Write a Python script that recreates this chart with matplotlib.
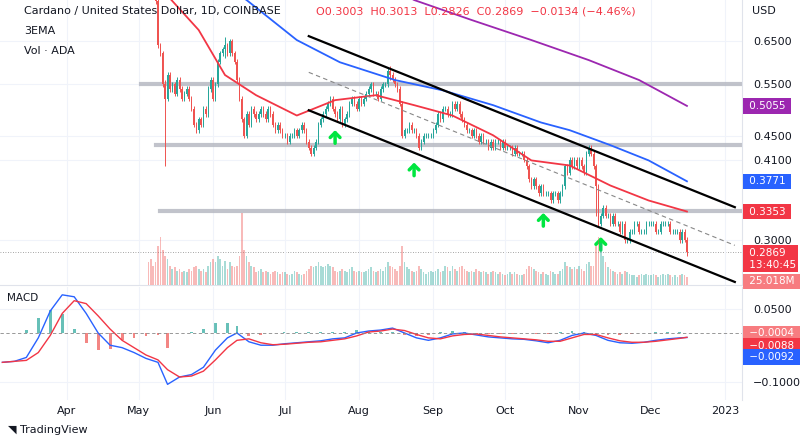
import numpy as np
import pandas as pd
import matplotlib.pyplot as plt
import matplotlib.dates as mdates

# daily closes, May 5 - Dec 16 2022
closes = (
    [0.83, 0.80, 0.78, 0.76, 0.64, 0.62, 0.55, 0.52, 0.57, 0.54, 0.55, 0.53, 0.56, 0.54,
     0.52, 0.53, 0.54, 0.52, 0.50, 0.47, 0.46, 0.48, 0.47, 0.50, 0.49, 0.54, 0.56]
    + [0.52, 0.55, 0.60, 0.62, 0.63, 0.64, 0.62, 0.65, 0.62, 0.60, 0.56, 0.52, 0.48, 0.45, 0.49,
       0.47, 0.50, 0.49, 0.48, 0.49, 0.50, 0.49, 0.48, 0.50, 0.49, 0.47, 0.46, 0.47, 0.46, 0.45]
    + [0.45, 0.44, 0.45, 0.45, 0.46, 0.45, 0.46, 0.47, 0.46, 0.44, 0.43, 0.42, 0.43, 0.44, 0.47,
       0.48, 0.49, 0.50, 0.51, 0.52, 0.50, 0.49, 0.48, 0.50, 0.47, 0.48, 0.49, 0.51, 0.52, 0.51, 0.50]
    + [0.52, 0.51, 0.52, 0.53, 0.54, 0.55, 0.53, 0.53, 0.52, 0.54, 0.55, 0.55, 0.58, 0.57, 0.56,
       0.55, 0.54, 0.51, 0.45, 0.46, 0.46, 0.47, 0.46, 0.46, 0.45, 0.43, 0.44, 0.45, 0.45, 0.45, 0.45]
    + [0.46, 0.47, 0.49, 0.48, 0.50, 0.50, 0.49, 0.49, 0.51, 0.50, 0.51, 0.49, 0.48, 0.47, 0.46,
       0.46, 0.45, 0.46, 0.45, 0.44, 0.45, 0.44, 0.44, 0.43, 0.44, 0.43, 0.44, 0.44, 0.43, 0.44]
    + [0.43, 0.43, 0.43, 0.42, 0.43, 0.42, 0.42, 0.42, 0.41, 0.40, 0.38, 0.37, 0.38, 0.37, 0.36,
       0.37, 0.36, 0.36, 0.36, 0.35, 0.36, 0.36, 0.35, 0.36, 0.37, 0.40, 0.39, 0.41, 0.40, 0.41, 0.40]
    + [0.41, 0.40, 0.39, 0.42, 0.43, 0.42, 0.40, 0.37, 0.32, 0.33, 0.34, 0.33, 0.33, 0.32, 0.33,
       0.32, 0.32, 0.31, 0.32, 0.30, 0.30, 0.31, 0.31, 0.32, 0.32, 0.31, 0.31, 0.31, 0.32, 0.32]
    + [0.32, 0.32, 0.31, 0.31, 0.32, 0.32, 0.32, 0.32, 0.31, 0.31, 0.31, 0.31, 0.30, 0.31, 0.3003, 0.2869]
)
# daily volume, millions
volumes = (
    [70, 80, 60, 70, 120, 150, 110, 90, 80, 60, 50, 55, 45, 50, 40, 45, 40, 50, 45, 55, 60, 50, 45,
     50, 40, 60, 70]
    + [80, 70, 90, 80, 60, 75, 50, 70, 60, 55, 60, 90, 225, 110, 90, 70, 60, 55, 40, 45, 50, 40,
       45, 40, 35, 40, 45, 40, 35, 40]
    + [40, 35, 30, 35, 45, 40, 35, 30, 35, 45, 50, 60, 55, 60, 70, 60, 55, 60, 65, 60, 55, 45, 40,
       45, 50, 45, 40, 50, 55, 45, 40]
    + [45, 40, 40, 45, 50, 55, 45, 40, 45, 50, 45, 55, 70, 60, 55, 50, 45, 60, 120, 70, 55, 50, 45,
       40, 45, 60, 50, 40, 35, 40, 45]
    + [40, 45, 50, 40, 45, 60, 55, 45, 60, 50, 45, 55, 60, 50, 45, 40, 45, 40, 50, 45, 40, 45, 40,
       35, 40, 45, 40, 35, 40, 35]
    + [30, 35, 40, 35, 40, 35, 30, 30, 35, 50, 60, 55, 50, 45, 40, 35, 40, 35, 30, 45, 40, 35, 35,
       45, 50, 70, 60, 55, 50, 55, 50]
    + [60, 50, 45, 65, 70, 60, 60, 120, 150, 130, 90, 70, 55, 50, 45, 40, 35, 40, 35, 45, 40, 35,
       30, 30, 25, 30, 35, 30, 35, 30]
    + [30, 35, 30, 25, 30, 35, 30, 35, 30, 25, 30, 25, 30, 35, 30, 25.018]
)
dates = pd.date_range("2022-05-05", periods=len(closes), freq="D")
opens = [0.85] + closes[:-1]

# a few notable wicks: date -> (high, low)
wicks = {"2022-05-12": (0.56, 0.40), "2022-06-06": (0.66, 0.61), "2022-08-14": (0.59, 0.56),
         "2022-11-08": (0.40, 0.33), "2022-12-16": (0.3013, 0.2826)}

# EMAs read at sample dates
red_dates = ["2022-05-10", "2022-05-26", "2022-06-06", "2022-06-19", "2022-07-06", "2022-07-22",
             "2022-08-08", "2022-08-24", "2022-09-09", "2022-09-26", "2022-10-12", "2022-10-28",
             "2022-11-14", "2022-11-30", "2022-12-16"]
red_vals = [0.80, 0.679, 0.570, 0.527, 0.487, 0.517, 0.527, 0.507, 0.487, 0.451, 0.409, 0.401,
            0.371, 0.350, 0.3353]
blue_dates = ["2022-05-10", "2022-06-15", "2022-07-06", "2022-07-24", "2022-08-16", "2022-09-05",
              "2022-09-26", "2022-10-16", "2022-10-28", "2022-11-14", "2022-11-30", "2022-12-16"]
blue_vals = [0.95, 0.763, 0.653, 0.599, 0.559, 0.537, 0.507, 0.474, 0.460, 0.434, 0.409, 0.3771]
purple_dates = ["2022-08-10", "2022-08-24", "2022-09-17", "2022-10-12", "2022-11-05", "2022-11-26",
                "2022-12-16"]
purple_vals = [0.82, 0.763, 0.706, 0.653, 0.604, 0.559, 0.5055]

# drawn channel and levels
channel_dates = ["2022-07-11", "2023-01-05"]
upper_line = [0.663, 0.341]
mid_line = [0.576, 0.294]
lower_line = [0.497, 0.255]
levels = [("2022-05-02", 0.55), ("2022-05-08", 0.434), ("2022-05-10", 0.336)]
arrow_dates = ["2022-07-22", "2022-08-24", "2022-10-17", "2022-11-10"]
arrow_prices = [0.465, 0.41, 0.337, 0.307]

# MACD, every ~5 days
macd_dates = ["2022-03-05", "2022-03-10", "2022-03-15", "2022-03-20", "2022-03-25", "2022-03-30",
              "2022-04-04", "2022-04-09", "2022-04-14", "2022-04-19", "2022-04-24", "2022-04-29",
              "2022-05-04", "2022-05-09", "2022-05-13", "2022-05-18", "2022-05-23", "2022-05-28",
              "2022-06-02", "2022-06-07", "2022-06-11", "2022-06-16", "2022-06-21", "2022-06-26",
              "2022-07-01", "2022-07-06", "2022-07-11", "2022-07-16", "2022-07-21", "2022-07-26",
              "2022-07-31", "2022-08-05", "2022-08-10", "2022-08-15", "2022-08-20", "2022-08-25",
              "2022-08-30", "2022-09-04", "2022-09-09", "2022-09-14", "2022-09-19", "2022-09-24",
              "2022-09-29", "2022-10-04", "2022-10-09", "2022-10-14", "2022-10-19", "2022-10-24",
              "2022-10-29", "2022-11-03", "2022-11-08", "2022-11-13", "2022-11-18", "2022-11-23",
              "2022-11-28", "2022-12-03", "2022-12-08", "2022-12-13", "2022-12-16"]
macd = [-0.060, -0.058, -0.050, -0.010, 0.045, 0.078, 0.074, 0.040, 0.000, -0.025, -0.030, -0.040,
        -0.052, -0.060, -0.105, -0.090, -0.085, -0.070, -0.035, -0.010, 0.000, -0.018, -0.025,
        -0.025, -0.022, -0.020, -0.018, -0.016, -0.012, -0.010, 0.000, 0.004, 0.006, 0.010, 0.000,
        -0.010, -0.015, -0.010, -0.002, 0.000, -0.004, -0.008, -0.010, -0.012, -0.013, -0.016,
        -0.020, -0.015, -0.005, 0.000, -0.005, -0.015, -0.020, -0.021, -0.019, -0.015, -0.012,
        -0.010, -0.0092]
signal = [-0.060, -0.058, -0.056, -0.040, -0.005, 0.040, 0.066, 0.060, 0.035, 0.008, -0.015,
          -0.030, -0.045, -0.055, -0.075, -0.090, -0.088, -0.078, -0.055, -0.030, -0.015, -0.012,
          -0.020, -0.024, -0.023, -0.021, -0.019, -0.018, -0.015, -0.012, -0.006, 0.002, 0.004,
          0.008, 0.005, -0.003, -0.010, -0.012, -0.006, -0.003, -0.002, -0.005, -0.008, -0.010,
          -0.012, -0.014, -0.017, -0.017, -0.010, -0.003, -0.003, -0.010, -0.016, -0.019, -0.019,
          -0.017, -0.014, -0.011, -0.0088]

UP, DOWN = "#26a69a", "#ef5350"
BLUE, RED, PURPLE = "#2962ff", "#f23645", "#9c27b0"

fig = plt.figure(figsize=(8, 4.43), dpi=100)
ax = fig.add_axes([0.0, 1 - 285 / 443, 0.9275, 285 / 443])
axm = fig.add_axes([0.0, 1 - 400 / 443, 0.9275, 113 / 443], sharex=ax)
axv = ax.twinx()

x = mdates.date2num(dates)
up = np.array(closes) >= np.array(opens)
cols = np.where(up, UP, DOWN)

# volume
axv.bar(x, volumes, width=0.7, color=cols, alpha=0.4, zorder=0)
axv.set_ylim(0, 885)
axv.axis("off")

# candles
lo = np.minimum(opens, closes)
hi = np.maximum(opens, closes)
ax.bar(x, hi - lo, bottom=lo, width=0.6, color=cols, zorder=3)
ax.vlines(x, lo * 0.99, hi * 1.01, color=cols, lw=0.7, zorder=3)
for d, (h, l) in wicks.items():
    i = list(dates).index(pd.Timestamp(d))
    ax.vlines(x[i], l, h, color=cols[i], lw=0.7, zorder=3)

ax.plot(pd.to_datetime(red_dates), red_vals, color=RED, lw=1.3, zorder=4)
ax.plot(pd.to_datetime(blue_dates), blue_vals, color=BLUE, lw=1.3, zorder=4)
ax.plot(pd.to_datetime(purple_dates), purple_vals, color=PURPLE, lw=1.3, zorder=4)

cd = pd.to_datetime(channel_dates)
ax.plot(cd, upper_line, color="black", lw=1.6, zorder=5)
ax.plot(cd, lower_line, color="black", lw=1.6, zorder=5)
ax.plot(cd, mid_line, color="#888888", lw=0.8, ls=(0, (4, 3)), zorder=5)
for d, p in levels:
    ax.plot([pd.Timestamp(d), pd.Timestamp("2023-01-08")], [p, p], color="#b2b5be", lw=3,
            alpha=0.8, zorder=2)
for d, p in zip(arrow_dates, arrow_prices):
    ax.annotate("", xy=(pd.Timestamp(d), p), xytext=(pd.Timestamp(d), p * 0.93),
                arrowprops=dict(arrowstyle="->,head_width=0.35,head_length=0.35",
                                color="#00e640", lw=2.5),
                zorder=6)
ax.axhline(closes[-1], color="#888888", lw=0.6, ls=(0, (1, 2)), zorder=1)

ax.set_yscale("log")
ax.set_ylim(0.252, 0.763)
ax.set_xlim(pd.Timestamp("2022-03-04"), pd.Timestamp("2023-01-08"))
yt = [0.65, 0.55, 0.45, 0.41, 0.30]
ax.yaxis.tick_right()
ax.set_yticks(yt)
ax.set_yticklabels([f"{v:.4f}" for v in yt])
ax.yaxis.set_minor_locator(plt.NullLocator())
ax.tick_params(axis="y", length=0, labelsize=8, colors="#131722", pad=8)
ax.tick_params(axis="x", length=0, labelbottom=False)
ax.grid(True, color="#f0f3fa", lw=0.8)
for s in ax.spines.values():
    s.set_visible(False)
ax.spines["right"].set_visible(True)
ax.spines["right"].set_color("#e0e3eb")
ax.spines["bottom"].set_visible(True)
ax.spines["bottom"].set_color("#e0e3eb")

def tag(a, y, text, color, fc="white"):
    a.text(1.005, y, text, transform=a.get_yaxis_transform(), fontsize=7.5, color=fc,
           va="center", ha="left",
           bbox=dict(boxstyle="square,pad=0.25", fc=color, ec="none"), zorder=10,
           clip_on=False)

tag(ax, 0.5055, " 0.5055 ", PURPLE)
tag(ax, 0.3771, " 0.3771 ", BLUE)
tag(ax, 0.3353, " 0.3353 ", RED)
tag(ax, 0.279, " 0.2869 \n 13:40:45", RED)
tag(ax, 0.2555, " 25.018M ", "#f77c80")
fig.text(0.94, 0.975, "USD", fontsize=8, color="#131722", va="center")

fig.text(0.03, 0.975, "Cardano / United States Dollar, 1D, COINBASE", fontsize=8,
         color="#131722", va="center")
fig.text(0.395, 0.975, "O0.3003  H0.3013  L0.2826  C0.2869  \u22120.0134 (\u22124.46%)",
         fontsize=8, color=RED, va="center")
fig.text(0.03, 0.93, "3EMA", fontsize=8, color="#131722", va="center")
fig.text(0.03, 0.885, "Vol \u00b7 ADA", fontsize=8, color="#131722", va="center")

# MACD
md = pd.to_datetime(macd_dates)
hist = np.array(macd) - np.array(signal)
hcol = [UP if h >= 0 else DOWN for h in hist]
axm.bar(md, hist, width=1.2, color=hcol, alpha=0.7)
axm.plot(md, macd, color=BLUE, lw=1)
axm.plot(md, signal, color=RED, lw=1)
axm.axhline(0, color="#888888", lw=0.6, ls=(0, (4, 3)))
axm.set_ylim(-0.137, 0.094)
axm.yaxis.tick_right()
axm.set_yticks([0.05, -0.1])
axm.set_yticklabels(["0.0500", "\u22120.1000"])
axm.tick_params(axis="y", length=0, labelsize=8, colors="#131722", pad=8)
axm.grid(True, color="#f0f3fa", lw=0.8)
for s in axm.spines.values():
    s.set_visible(False)
axm.spines["right"].set_visible(True)
axm.spines["right"].set_color("#e0e3eb")
tag(axm, -0.0004, " \u22120.0004 ", "#f77c80")
tag(axm, -0.026, " \u22120.0088 ", RED)
tag(axm, -0.049, " \u22120.0092 ", BLUE)
axm.text(0.01, 0.88, "MACD", transform=axm.transAxes, fontsize=7.5, color="#131722")

months = pd.to_datetime(["2022-04-01", "2022-05-01", "2022-06-01", "2022-07-01", "2022-08-01",
                         "2022-09-01", "2022-10-01", "2022-11-01", "2022-12-01", "2023-01-01"])
axm.set_xticks(months)
axm.set_xticklabels(["Apr", "May", "Jun", "Jul", "Aug", "Sep", "Oct", "Nov", "Dec", "2023"])
axm.tick_params(axis="x", length=0, labelsize=8, colors="#131722", pad=4)

fig.text(0.01, 0.03, "\u25e5 TradingView", fontsize=8, color="#131722", va="center")
fig.savefig("out.png", dpi=100, facecolor="white")
